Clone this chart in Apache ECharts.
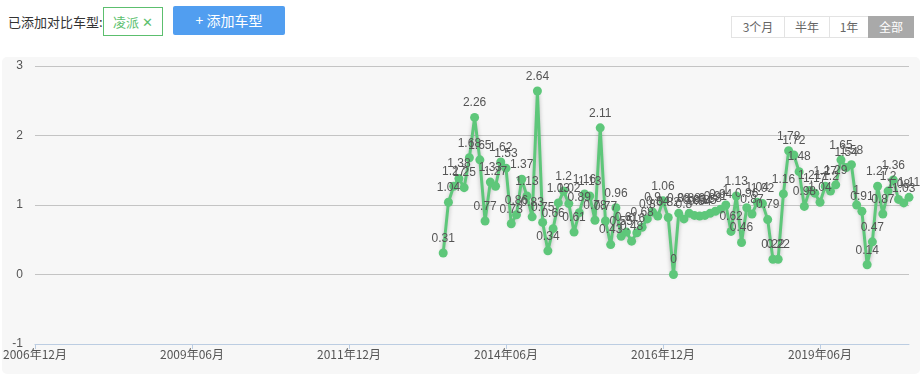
<!DOCTYPE html>
<html>
<head>
<meta charset="utf-8">
<script src="https://cdn.jsdelivr.net/npm/echarts@6/dist/echarts.min.js"></script>
<style>
body { margin:0; width:922px; height:377px; background:#fff; font-family:"Noto Sans CJK SC", sans-serif; overflow:hidden; position:relative; }
.lbl { position:absolute; left:8px; top:12px; font-size:13px; color:#333; }
.tag { position:absolute; left:103px; top:7px; width:58px; height:27px; border:1px solid #5cbf6e; box-sizing:content-box; color:#5cbf6e; font-size:13px; line-height:27px; text-align:center; }
.add { position:absolute; left:173px; top:6px; width:112px; height:29px; background:#519ef0; color:#fff; font-size:14px; line-height:29px; text-align:center; border-radius:2px; }
.seg { position:absolute; top:16px; height:20px; border:1px solid #e3e3e3; font-size:12px; color:#666; line-height:20px; text-align:center; background:#fff; }
.seg.on { background:#a9a9a9; color:#fff; border-color:#a9a9a9; }
.panel { position:absolute; left:2px; top:57px; width:918px; height:317px; background:#f7f7f7; border-radius:5px; }
#main { position:absolute; left:0; top:0; width:922px; height:377px; }
</style>
</head>
<body>
<div class="lbl">已添加对比车型:</div>
<div class="tag">凌派 ✕</div>
<div class="add">+ 添加车型</div>
<div class="seg" style="left:731px;width:52px;">3个月</div>
<div class="seg" style="left:784px;width:44px;">半年</div>
<div class="seg" style="left:829px;width:38px;">1年</div>
<div class="seg on" style="left:868px;width:44px;">全部</div>
<div class="panel"></div>
<div id="main"></div>
<script>
// 月份: 2006年12月 ~ 2020年11月
var startYear = 2006, startMonth = 12, monthCount = 168;
// 数据从 2013年06月 开始
var dataStart = '2013年06月';
var values = [
    0.31, 1.04, 1.27, 1.38, 1.25, 1.68, 2.26, 1.65, 0.77, 1.33,
    1.27, 1.62, 1.53, 0.73, 0.86, 1.37, 1.13, 0.83, 2.64, 0.75,
    0.34, 0.66, 1.03, 1.2, 1.02, 0.61, 0.89, 1.16, 1.13, 0.78,
    2.11, 0.77, 0.43, 0.96, 0.55, 0.61, 0.48, 0.6, 0.68, 0.8,
    0.9, 0.84, 1.06, 0.82, 0, 0.88, 0.8, 0.88, 0.85, 0.84,
    0.85, 0.88, 0.91, 0.94, 1, 0.62, 1.13, 0.46, 0.96, 0.87,
    1.04, 1.02, 0.79, 0.22, 0.22, 1.16, 1.78, 1.72, 1.48, 0.98,
    1.21, 1.17, 1.04, 1.27, 1.2, 1.29, 1.65, 1.54, 1.58, 1,
    0.91, 0.14, 0.47, 1.27, 0.87, 1.2, 1.36, 1.08, 1.03, 1.11,
    1.02
];

var months = [];
for (var i = 0; i < monthCount; i++) {
    var m = startMonth - 1 + i;
    var y = startYear + Math.floor(m / 12);
    var mm = m % 12 + 1;
    months.push(y + '年' + (mm < 10 ? '0' + mm : mm) + '月');
}
var offset = months.indexOf(dataStart);
var seriesData = months.map(function (d, i) {
    var k = i - offset;
    return (k >= 0 && k < values.length) ? values[k] : '-';
});

var myChart = echarts.init(document.getElementById('main'));
var option = {
    backgroundColor: 'transparent',
    animation: false,
    grid: {
        left: 34,
        right: 13,
        top: 66,
        bottom: 33,
        containLabel: false
    },
    xAxis: {
        type: 'category',
        boundaryGap: false,
        data: months,
        axisLine: { onZero: false, lineStyle: { color: '#bccde2' } },
        axisTick: { interval: 29, length: 5, lineStyle: { color: '#bccde2' } },
        axisLabel: { interval: 29, color: '#555', fontSize: 12, margin: 4, fontFamily: 'Noto Sans CJK SC' },
        splitLine: { show: false }
    },
    yAxis: {
        type: 'value',
        min: -1,
        max: 3,
        interval: 1,
        axisLine: { show: false },
        axisTick: { show: false },
        axisLabel: { color: '#555', fontSize: 12, margin: 12 },
        splitLine: { lineStyle: { color: '#c4c4c4' } }
    },
    series: [{
        name: '凌派',
        type: 'line',
        data: seriesData,
        connectNulls: false,
        showAllSymbol: true,
        symbol: 'circle',
        symbolSize: 9,
        itemStyle: { color: '#5ec77a' },
        lineStyle: {
            width: 3,
            color: '#5ec77a',
            shadowColor: 'rgba(0,0,0,0.25)',
            shadowBlur: 4,
            shadowOffsetY: 2
        },
        label: {
            show: true,
            position: 'top',
            color: '#555',
            fontSize: 12,
            distance: 4
        },
        labelLayout: { hideOverlap: false }
    }]
};
myChart.setOption(option);
</script>
</body>
</html>
